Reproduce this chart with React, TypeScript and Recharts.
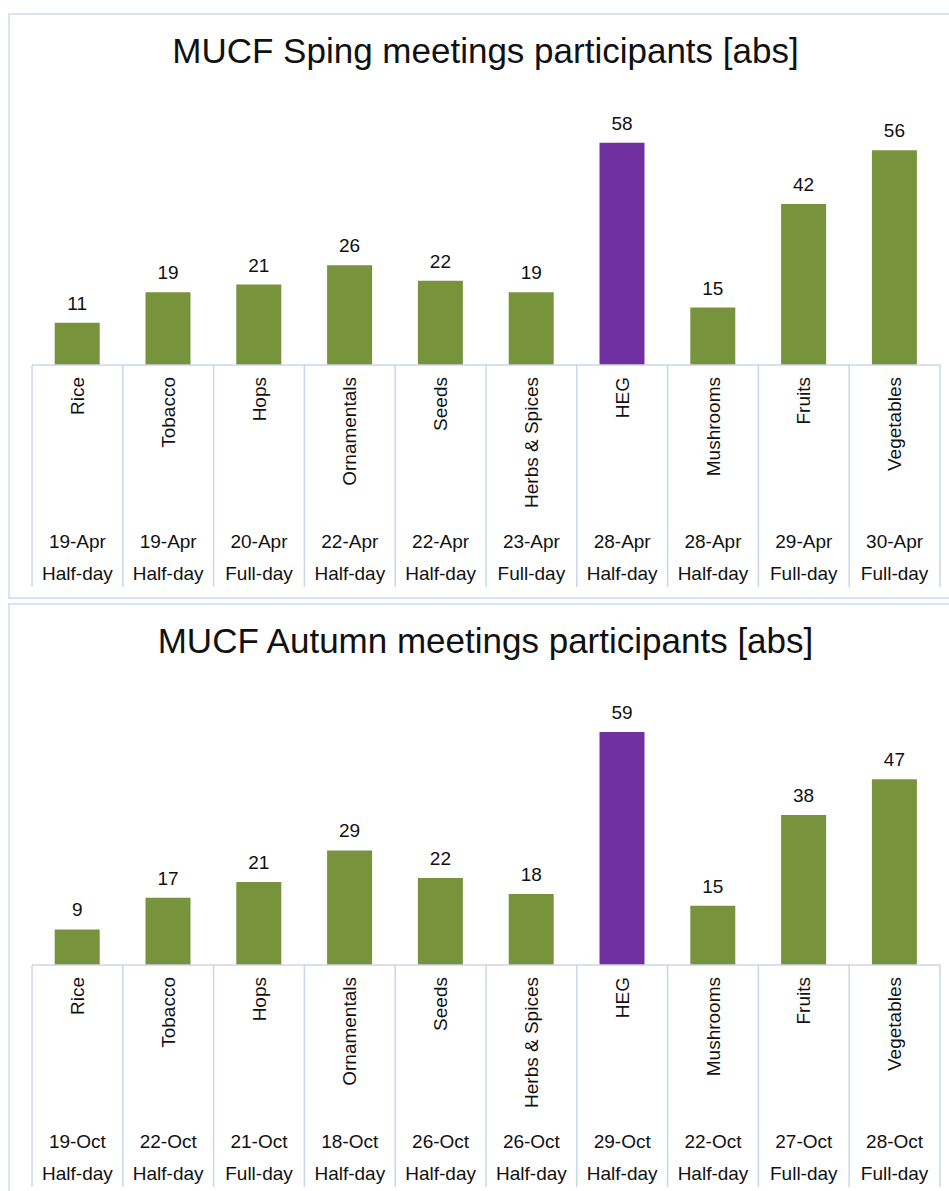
import React from 'react';
import { BarChart, Bar, XAxis, YAxis, Cell, LabelList } from 'recharts';

const categories = ['Rice', 'Tobacco', 'Hops', 'Ornamentals', 'Seeds', 'Herbs & Spices', 'HEG', 'Mushrooms', 'Fruits', 'Vegetables'];

const springValues = [11, 19, 21, 26, 22, 19, 58, 15, 42, 56];
const springDates = ['19-Apr', '19-Apr', '20-Apr', '22-Apr', '22-Apr', '23-Apr', '28-Apr', '28-Apr', '29-Apr', '30-Apr'];
const springDurations = ['Half-day', 'Half-day', 'Full-day', 'Half-day', 'Half-day', 'Full-day', 'Half-day', 'Half-day', 'Full-day', 'Full-day'];

const autumnValues = [9, 17, 21, 29, 22, 18, 59, 15, 38, 47];
const autumnDates = ['19-Oct', '22-Oct', '21-Oct', '18-Oct', '26-Oct', '26-Oct', '29-Oct', '22-Oct', '27-Oct', '28-Oct'];
const autumnDurations = ['Half-day', 'Half-day', 'Full-day', 'Half-day', 'Half-day', 'Half-day', 'Half-day', 'Half-day', 'Full-day', 'Full-day'];

const highlighted = 'HEG';

const GREEN = '#77933C';
const PURPLE = '#7030A0';
const GRID = '#C9D6EA';
const FONT = '"Liberation Sans", Arial, sans-serif';
const TEXT = '#111';

const CHART_W = 939;
const MARGIN_L = 22;
const MARGIN_R = 9;
const BAND = (CHART_W - MARGIN_L - MARGIN_R) / categories.length;

const TableTick = (props: any) => {
  const { x, y, payload, dates, durations } = props;
  const i = payload.index ?? props.index;
  const last = i === categories.length - 1;
  return (
    <g fontFamily={FONT} fontSize={19} fill={TEXT}>
      <line x1={x - BAND / 2} y1={y} x2={x - BAND / 2} y2={y + 222} stroke={GRID} strokeWidth={1.5} />
      {last && <line x1={x + BAND / 2} y1={y} x2={x + BAND / 2} y2={y + 222} stroke={GRID} strokeWidth={1.5} />}
      <text
        x={x}
        y={y + 12}
        dy="0.35em"
        textAnchor="end"
        transform={`rotate(-90, ${x}, ${y + 12})`}
        fill={TEXT}
      >
        {payload.value}
      </text>
      <text x={x} y={y + 183} textAnchor="middle" fill={TEXT}>{dates[i]}</text>
      <text x={x} y={y + 215} textAnchor="middle" fill={TEXT}>{durations[i]}</text>
    </g>
  );
};

type PanelProps = {
  title: string;
  top: number;
  height: number;
  chartHeight: number;
  marginTop: number;
  axisHeight: number;
  values: number[];
  dates: string[];
  durations: string[];
};

const Panel = ({ title, top, height, chartHeight, marginTop, axisHeight, values, dates, durations }: PanelProps) => {
  const data = categories.map((name, i) => ({ name, value: values[i] }));
  return (
    <div
      style={{
        position: 'absolute',
        left: 8,
        top,
        width: 950,
        height,
        border: '2px solid #DAE3F0',
        boxSizing: 'border-box',
        background: '#fff',
      }}
    >
      <div
        style={{
          position: 'absolute',
          left: 0,
          top: 18,
          width: 951,
          textAlign: 'center',
          fontFamily: FONT,
          fontSize: 35,
          lineHeight: '35px',
          color: TEXT,
          whiteSpace: 'pre',
        }}
      >
        {title}
      </div>
      <div style={{ position: 'absolute', left: 0, top: 0 }}>
        <BarChart
          width={CHART_W}
          height={chartHeight}
          data={data}
          margin={{ top: marginTop, right: MARGIN_R, left: MARGIN_L, bottom: 0 }}
          barCategoryGap="25%"
        >
          <XAxis
            dataKey="name"
            interval={0}
            height={axisHeight}
            tickSize={0}
            tickMargin={0}
            tickLine={false}
            axisLine={{ stroke: GRID, strokeWidth: 1.5 }}
            tick={(p: any) => <TableTick {...p} dates={dates} durations={durations} />}
          />
          <YAxis hide domain={[0, 60]} />
          <Bar dataKey="value" isAnimationActive={false}>
            {data.map((d) => (
              <Cell key={d.name} fill={d.name === highlighted ? PURPLE : GREEN} />
            ))}
            <LabelList
              dataKey="value"
              position="top"
              offset={13}
              style={{ fontFamily: FONT, fontSize: 19, fill: TEXT }}
            />
          </Bar>
        </BarChart>
      </div>
    </div>
  );
};

const App: React.FC = () => {
  return (
    <div
      style={{
        position: 'fixed',
        left: 0,
        top: 0,
        width: 949,
        height: 1191,
        overflow: 'hidden',
        background: '#fff',
      }}
    >
      <Panel
        title="MUCF Sping meetings participants [abs]"
        top={13}
        height={586}
        chartHeight={583}
        marginTop={120}
        axisHeight={233}
        values={springValues}
        dates={springDates}
        durations={springDurations}
      />
      <Panel
        title="MUCF Autumn meetings participants [abs]"
        top={603}
        height={600}
        chartHeight={586}
        marginTop={123}
        axisHeight={226}
        values={autumnValues}
        dates={autumnDates}
        durations={autumnDurations}
      />
    </div>
  );
};

export default App;
